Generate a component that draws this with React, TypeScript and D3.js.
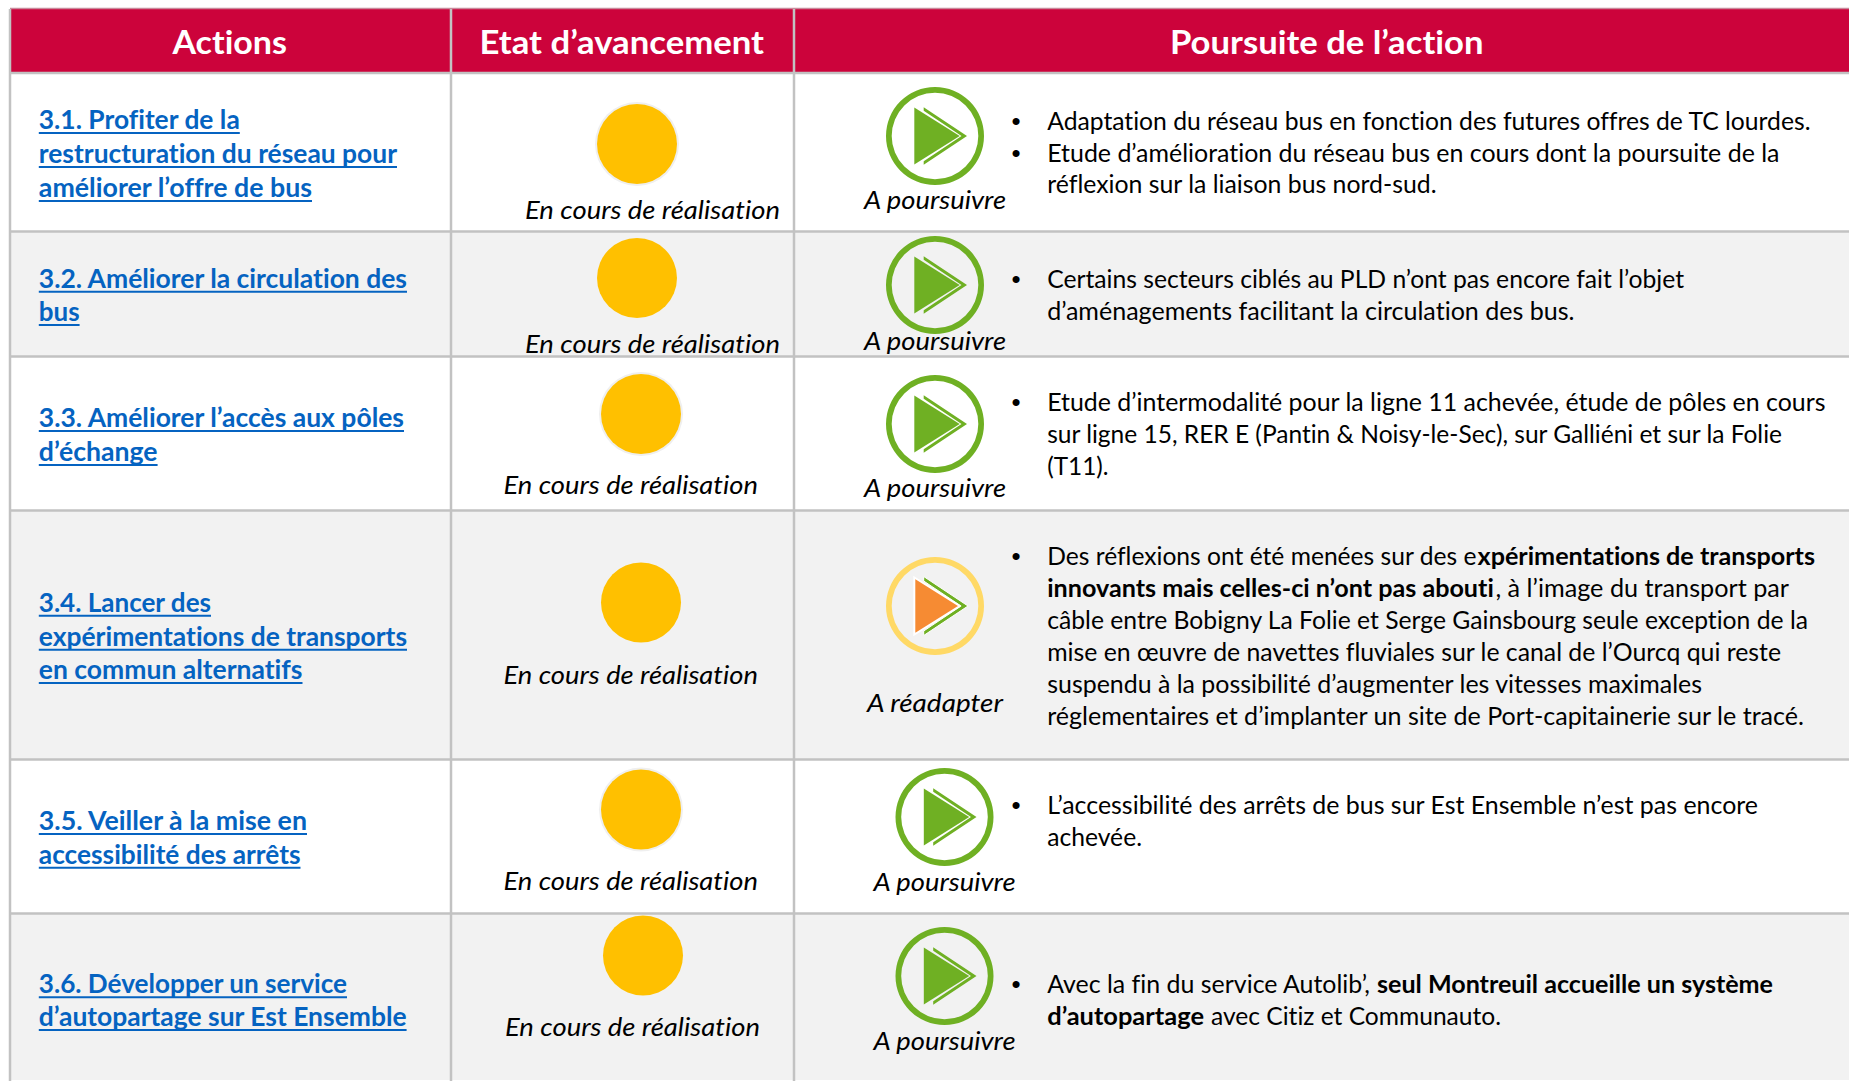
import React from "react";
import * as d3 from "d3";

// ---------- content ----------
const headers = ["Actions", "Etat d’avancement", "Poursuite de l’action"];
const actionIds = ["3.1", "3.2", "3.3", "3.4", "3.5", "3.6"];
const actionTitles = [
  ["3.1. Profiter de la", "restructuration du réseau pour", "améliorer l’offre de bus"],
  ["3.2. Améliorer la circulation des", "bus"],
  ["3.3. Améliorer l’accès aux pôles", "d’échange"],
  ["3.4. Lancer des", "expérimentations de transports", "en commun alternatifs"],
  ["3.5. Veiller à la mise en", "accessibilité des arrêts"],
  ["3.6. Développer un service", "d’autopartage sur Est Ensemble"],
];
const statusLabels = Array.from({ length: 6 }, () => "En cours de réalisation");
const continuationKinds = ["go", "go", "go", "adapt", "go", "go"];
const continuationLabels = ["A poursuivre", "A poursuivre", "A poursuivre", "A réadapter", "A poursuivre", "A poursuivre"];
// each line: list of [text, bold]
const comments: [string, boolean][][][] = [
  [
    [["Adaptation du réseau bus en fonction des futures offres de TC lourdes.", false]],
    [["Etude d’amélioration du réseau bus en cours dont la poursuite de la", false]],
    [["réflexion sur la liaison bus nord-sud.", false]],
  ],
  [
    [["Certains secteurs ciblés au PLD n’ont pas encore fait l’objet", false]],
    [["d’aménagements facilitant la circulation des bus.", false]],
  ],
  [
    [["Etude d’intermodalité pour la ligne 11 achevée, étude de pôles en cours", false]],
    [["sur ligne 15, RER E (Pantin & Noisy-le-Sec), sur Galliéni et sur la Folie", false]],
    [["(T11).", false]],
  ],
  [
    [["Des réflexions ont été menées sur des e", false], ["xpérimentations de transports", true]],
    [["innovants mais celles-ci n’ont pas abouti", true], [", à l’image du transport par", false]],
    [["câble entre Bobigny La Folie et Serge Gainsbourg seule exception de la", false]],
    [["mise en œuvre de navettes fluviales sur le canal de l’Ourcq qui reste", false]],
    [["suspendu à la possibilité d’augmenter les vitesses maximales", false]],
    [["réglementaires et d’implanter un site de Port-capitainerie sur le tracé.", false]],
  ],
  [
    [["L’accessibilité des arrêts de bus sur Est Ensemble n’est pas encore", false]],
    [["achevée.", false]],
  ],
  [
    [["Avec la fin du service Autolib’,", false], ["seul Montreuil accueille un système", true]],
    [["d’autopartage", true], ["avec Citiz et Communauto.", false]],
  ],
];
const bulletLines = [[0, 1], [0], [0], [0], [0], [0]];

// ---------- layout (measured, separate from the content) ----------
const W = 1849;
const H = 1081;
const FONT = "Lato, Carlito, sans-serif";
const tableLeft = 10;
const colLines = [451, 794];
const headerBand = [9, 73];
const rowBottoms = [231, 356, 510, 759, 913, 1080];
const headerSpans = [[172.4, 287], [479.6, 764], [1170, 1483.5]];
const titleX = 38.8;
const titleBaselines = [[128, 162, 196], [286.7, 320], [426, 460], [610.7, 644.7, 678], [829, 862.7], [992.3, 1025]];
const titleEnds = [[239.8, 397, 312], [407, 79.6], [404, 157.6], [211, 407, 302.5], [307, 300.5], [347, 406.6]];
const dotCenters = [[637, 143], [637, 277], [641, 413], [641, 601.5], [641, 808.5], [643, 954.5]];
const statusSpans = [[525, 780, 218], [525, 780, 352], [503.5, 758, 492.7], [503.5, 758, 682.5], [503.5, 758, 888.5], [505, 760, 1035]];
const iconCenters = [[935, 135], [935, 284], [935, 423], [935, 605], [944.5, 816], [944.5, 975]];
const contBaselines = [208, 348.5, 496, 710.5, 889.5, 1049];
const commentBaselines = [[129, 160.5, 192], [286.7, 319], [410, 442, 474], [564, 596, 628, 660, 692, 724], [812.7, 844.7], [991.7, 1024]];
const cx0 = 1047.2;
const commentSpans = [
  [[[cx0, 1810.5]], [[cx0, 1779.5]], [[cx0, 1436.5]]],
  [[[cx0, 1684]], [[cx0, 1574.5]]],
  [[[cx0, 1825.5]], [[cx0, 1782]], [[cx0, 1108.5]]],
  [[[cx0, 1476.4], [1477.5, 1815]], [[cx0, 1493.8], [1495.4, 1789]], [[cx0, 1808]], [[cx0, 1781]], [[cx0, 1702]], [[cx0, 1804]]],
  [[[cx0, 1758]], [[cx0, 1142]]],
  [[[cx0, 1370], [1377, 1773]], [[cx0, 1204], [1211, 1501]]],
];

// ---------- D3 scales & shapes ----------
const rowBottom = d3.scaleOrdinal<string, number>().domain(actionIds).range(rowBottoms);
const rowFill = d3.scaleOrdinal<number, string>().domain([0, 1]).range(["#FFFFFF", "#F2F2F2"]);
const ringColor = d3.scaleOrdinal<string, string>().domain(["go", "adapt"]).range(["#6FB023", "#FFD966"]);
const triColor = d3.scaleOrdinal<string, string>().domain(["go", "adapt"]).range(["#6FB023", "#F68B33"]);
const poly = d3.line().curve(d3.curveLinearClosed);
const fullCircle = (r0: number, r1: number) =>
  d3.arc()({ innerRadius: r0, outerRadius: r1, startAngle: 0, endAngle: 2 * Math.PI } as any) as string;

const triangle: [number, number][] = [[-20.7, -28.5], [-20.7, 28.5], [24.7, 0]];
const chevronGo: [number, number][] = [[-11.3, -28.7], [32, 0], [-11.3, 28.7], [-11.3, 25.3], [26.5, 0], [-11.3, -25.3]];
const chevronAdapt: [number, number][] = [[-11.3, -29.5], [33, 0], [-11.3, 29.5], [-11.3, 25], [26, 0], [-11.3, -25]];

function Icon({ kind, x, y }: { kind: string; x: number; y: number }) {
  const adapt = kind === "adapt";
  return (
    <g transform={`translate(${x},${y})`}>
      <path d={fullCircle(43.3, 49)} fill={ringColor(kind)} />
      <path d={poly(adapt ? chevronAdapt : chevronGo) as string} fill="#6FB023" stroke="#FFFFFF" strokeWidth={adapt ? 1 : 0} />
      <path
        d={poly(triangle) as string}
        fill={triColor(kind)}
        stroke={adapt ? "#FFFFFF" : "none"}
        strokeWidth={adapt ? 2 : 0}
      />
    </g>
  );
}

function Fit({ x0, x1, y, size, weight, italic, fill, children }: any) {
  return (
    <text
      x={x0}
      y={y}
      textLength={x1 - x0}
      lengthAdjust="spacingAndGlyphs"
      fontFamily={FONT}
      fontSize={size}
      fontWeight={weight ?? 400}
      fontStyle={italic ? "italic" : "normal"}
      fill={fill}
      style={{ fontVariantLigatures: "none" }}
    >
      {children}
    </text>
  );
}

export default function App() {
  const rowTops = [headerBand[1], ...rowBottoms.slice(0, -1)];
  return (
    <svg width={W} height={H} viewBox={`0 0 ${W} ${H}`} style={{ position: "absolute", left: 0, top: 0, display: "block", background: "#fff" }}>
      {/* row bands */}
      {actionIds.map((id, i) => (
        <rect key={id} x={tableLeft} y={rowTops[i]} width={W - tableLeft} height={rowBottom(id) - rowTops[i]} fill={rowFill(i % 2)} />
      ))}
      {/* header */}
      <rect x={tableLeft} y={headerBand[0]} width={W - tableLeft} height={headerBand[1] - headerBand[0]} fill="#CC033B" />
      <line x1={tableLeft} x2={W} y1={headerBand[0] - 0.5} y2={headerBand[0] - 0.5} stroke="#C98A9C" strokeWidth={1.5} />
      {/* grid */}
      <g stroke="#C2C2C2" strokeWidth={2.5}>
        <line x1={tableLeft} x2={W} y1={headerBand[1]} y2={headerBand[1]} />
        {actionIds.slice(0, -1).map((id) => (
          <line key={id} x1={tableLeft} x2={W} y1={rowBottom(id) + 0.5} y2={rowBottom(id) + 0.5} />
        ))}
        <line x1={tableLeft} x2={tableLeft} y1={headerBand[0]} y2={H} />
        {colLines.map((x) => (
          <line key={x} x1={x} x2={x} y1={headerBand[0]} y2={H} />
        ))}
      </g>
      <g transform="translate(0,1)">
        {headers.map((h, i) => (
          <Fit key={h} x0={headerSpans[i][0]} x1={headerSpans[i][1]} y={53.3} size={33} weight={700} fill="#FFFFFF">
            {h}
          </Fit>
        ))}
        {/* action titles */}
        {actionTitles.map((lines, i) =>
          lines.map((line, j) => (
            <g key={`${i}-${j}`}>
              <Fit x0={titleX} x1={titleEnds[i][j]} y={titleBaselines[i][j]} size={27.5} weight={700} fill="#0563C1">
                {line}
              </Fit>
              <line x1={titleX} x2={titleEnds[i][j]} y1={titleBaselines[i][j] + 4} y2={titleBaselines[i][j] + 4} stroke="#0563C1" strokeWidth={2} />
            </g>
          ))
        )}
        {/* status */}
        {statusLabels.map((s, i) => (
          <g key={i}>
            <path
              d={fullCircle(0, 42)}
              transform={`translate(${dotCenters[i][0]},${dotCenters[i][1]})`}
              fill={i % 2 === 0 ? "#EFEFEF" : "none"}
            />
            <path d={fullCircle(0, 40)} transform={`translate(${dotCenters[i][0]},${dotCenters[i][1]})`} fill="#FFC000" />
            <Fit x0={statusSpans[i][0]} x1={statusSpans[i][1]} y={statusSpans[i][2]} size={26} italic fill="#000">
              {s}
            </Fit>
          </g>
        ))}
        {/* continuation */}
        {continuationLabels.map((label, i) => (
          <g key={i}>
            <Icon kind={continuationKinds[i]} x={iconCenters[i][0]} y={iconCenters[i][1]} />
            <text
              x={iconCenters[i][0]}
              y={contBaselines[i]}
              textAnchor="middle"
              textLength={label === "A réadapter" ? 136 : 142}
              lengthAdjust="spacingAndGlyphs"
              fontFamily={FONT}
              fontSize={26}
              fontStyle="italic"
              fill="#000"
            >
              {label}
            </text>
          </g>
        ))}
        {/* commentary */}
        {comments.map((lines, i) =>
          lines.map((segs, j) => (
            <g key={`${i}-${j}`}>
              {bulletLines[i].includes(j) && (
                <text x={1016} y={commentBaselines[i][j]} textAnchor="middle" fontFamily="Liberation Sans" fontSize={26} fill="#000">
                  •
                </text>
              )}
              {segs.map(([t, bold], k) => (
                <Fit key={k} x0={commentSpans[i][j][k][0]} x1={commentSpans[i][j][k][1]} y={commentBaselines[i][j]} size={25.5} weight={bold ? 700 : 400} fill="#000">
                  {t}
                </Fit>
              ))}
            </g>
          ))
        )}
      </g>
    </svg>
  );
}
